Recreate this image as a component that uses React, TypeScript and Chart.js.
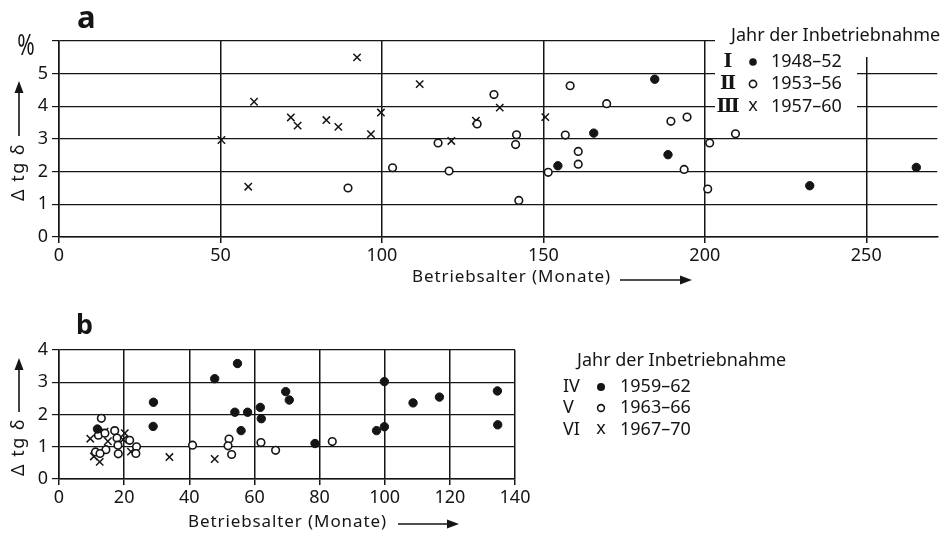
import React, { useEffect, useRef } from "react";
import { Chart, registerables } from "chart.js";

Chart.register(...registerables);

// ---------- data ----------
const ticksAgeA = [0, 50, 100, 150, 200, 250];
const ticksDtgA = [0, 1, 2, 3, 4, 5, 6];
const ticksAgeB = [0, 20, 40, 60, 80, 100, 120, 140];
const ticksDtgB = [0, 1, 2, 3, 4];

const panelA = "a";
const panelB = "b";
const unitLabel = "%";
const xTitle = "Betriebsalter (Monate)";
const yTitle = "Δ tg δ";
const legendTitle = "Jahr der Inbetriebnahme";
const groupsA = ["Ⅰ", "Ⅱ", "Ⅲ"];
const yearsA = ["1948–52", "1953–56", "1957–60"];
const groupsB = ["IV", "V", "VI"];
const yearsB = ["1959–62", "1963–66", "1967–70"];

// [Betriebsalter (Monate), Δ tg δ (%)]
const groupI: [number, number][] = [
  [184.5, 4.83], [165.6, 3.18], [154.5, 2.18], [188.6, 2.52], [232.5, 1.57], [265.5, 2.13],
];
const groupII: [number, number][] = [
  [89.5, 1.5], [103.3, 2.12], [117.4, 2.88], [120.8, 2.02], [129.5, 3.46], [134.7, 4.36],
  [141.7, 3.13], [141.4, 2.83], [142.4, 1.12], [151.5, 1.98], [156.8, 3.12], [158.3, 4.63],
  [160.8, 2.62], [160.8, 2.23], [169.6, 4.08], [189.5, 3.54], [194.5, 3.67], [193.6, 2.07],
  [201.5, 2.88], [200.9, 1.47], [209.5, 3.16],
];
const groupIII: [number, number][] = [
  [50.3, 2.97], [60.4, 4.14], [58.6, 1.54], [71.8, 3.66], [73.9, 3.41], [82.8, 3.58],
  [86.5, 3.37], [92.3, 5.5], [96.6, 3.15], [99.7, 3.81], [111.7, 4.68], [121.5, 2.94],
  [129.1, 3.56], [136.5, 3.96], [150.6, 3.67],
];
const groupIV: [number, number][] = [
  [11.8, 1.55], [29.0, 2.38], [28.9, 1.63], [47.8, 3.11], [54.8, 3.58], [54.0, 2.07],
  [57.9, 2.07], [55.9, 1.5], [61.8, 2.22], [62.1, 1.87], [69.6, 2.71], [70.7, 2.45],
  [78.6, 1.1], [97.5, 1.5], [99.9, 1.62], [99.9, 3.02], [108.7, 2.36], [116.8, 2.54],
  [134.6, 2.73], [134.7, 1.68],
];
const groupV: [number, number][] = [
  [13.0, 1.88], [12.1, 1.36], [14.1, 1.42], [17.1, 1.5], [17.8, 1.27], [18.1, 1.05],
  [18.2, 0.78], [21.7, 1.2], [14.4, 0.91], [11.2, 0.84], [12.6, 0.79], [23.8, 1.0],
  [23.6, 0.79], [41.0, 1.05], [52.2, 1.24], [51.9, 1.03], [53.0, 0.76], [62.0, 1.13],
  [66.5, 0.89], [83.9, 1.16],
];
const groupVI: [number, number][] = [
  [9.6, 1.25], [14.0, 1.47], [15.0, 1.17], [20.2, 1.42], [19.7, 1.22], [10.7, 0.7],
  [12.5, 0.53], [22.1, 0.85], [33.9, 0.68], [47.8, 0.62],
];

// ---------- styling helpers ----------
const INK = "#151515";
const FONT = '"Noto Sans", "DejaVu Sans", sans-serif';

type Kind = "filled" | "open" | "cross";

function dataset(label: string, pts: [number, number][], kind: Kind) {
  const base: any = {
    label,
    data: pts.map(([x, y]) => ({ x, y })),
    borderColor: INK,
  };
  if (kind === "filled") {
    return { ...base, pointStyle: "circle", backgroundColor: INK, pointRadius: 4.2, borderWidth: 1 };
  }
  if (kind === "open") {
    return { ...base, pointStyle: "circle", backgroundColor: "#fff", pointRadius: 3.8, borderWidth: 1.6 };
  }
  return { ...base, pointStyle: "crossRot", backgroundColor: INK, pointRadius: 5.2, borderWidth: 1.5 };
}

function drawArrow(ctx: CanvasRenderingContext2D, x1: number, y1: number, x2: number, y2: number) {
  const head = 12;
  const half = 4.5;
  const ang = Math.atan2(y2 - y1, x2 - x1);
  const bx = x2 - head * Math.cos(ang);
  const by = y2 - head * Math.sin(ang);
  ctx.save();
  ctx.strokeStyle = INK;
  ctx.fillStyle = INK;
  ctx.lineWidth = 1.6;
  ctx.beginPath();
  ctx.moveTo(x1, y1);
  ctx.lineTo(bx, by);
  ctx.stroke();
  ctx.beginPath();
  ctx.moveTo(x2, y2);
  ctx.lineTo(bx + half * Math.sin(ang), by - half * Math.cos(ang));
  ctx.lineTo(bx - half * Math.sin(ang), by + half * Math.cos(ang));
  ctx.closePath();
  ctx.fill();
  ctx.restore();
}

function drawMarker(ctx: CanvasRenderingContext2D, kind: Kind, x: number, y: number, r: number) {
  ctx.save();
  ctx.strokeStyle = INK;
  ctx.fillStyle = INK;
  if (kind === "filled") {
    ctx.beginPath();
    ctx.arc(x, y, r, 0, Math.PI * 2);
    ctx.fill();
  } else if (kind === "open") {
    ctx.lineWidth = 1.6;
    ctx.beginPath();
    ctx.arc(x, y, r, 0, Math.PI * 2);
    ctx.stroke();
  } else {
    ctx.font = `18px ${FONT}`;
    ctx.textAlign = "center";
    ctx.textBaseline = "middle";
    ctx.fillText("x", x, y - 1);
  }
  ctx.restore();
}

function text(ctx: CanvasRenderingContext2D, s: string, x: number, y: number, font: string, align: CanvasTextAlign = "left") {
  ctx.save();
  ctx.fillStyle = INK;
  ctx.font = font;
  ctx.textAlign = align;
  ctx.textBaseline = "middle";
  ctx.fillText(s, x, y);
  ctx.restore();
}

function yTitleAt(ctx: CanvasRenderingContext2D, x: number, y: number) {
  ctx.save();
  ctx.translate(x, y);
  ctx.rotate(-Math.PI / 2);
  ctx.fillStyle = INK;
  ctx.font = `18px ${FONT}`;
  (ctx as any).letterSpacing = "1.5px";
  ctx.textAlign = "center";
  ctx.textBaseline = "middle";
  ctx.fillText(yTitle, 0, 0);
  ctx.restore();
}

function xTitleAt(ctx: CanvasRenderingContext2D, x: number, y: number) {
  ctx.save();
  ctx.fillStyle = INK;
  ctx.font = `17px ${FONT}`;
  (ctx as any).letterSpacing = "0.9px";
  ctx.textAlign = "left";
  ctx.textBaseline = "middle";
  ctx.fillText(xTitle, x, y);
  ctx.restore();
}

const kinds: Kind[] = ["filled", "open", "cross"];

function decorA(chart: any) {
  const ctx: CanvasRenderingContext2D = chart.ctx;
  ctx.save();
  // white legend background hiding the grid
  ctx.fillStyle = "#fff";
  ctx.fillRect(715, 16, 229, 41);
  ctx.fillRect(715, 57, 142, 58);
  ctx.restore();

  text(ctx, panelA, 77, 19, `bold 31px ${FONT}`);
  ctx.save();
  ctx.translate(26, 47);
  ctx.scale(1, 1.35);
  text(ctx, unitLabel, 0, 0, `21px ${FONT}`, "center");
  ctx.restore();
  yTitleAt(ctx, 19, 172);
  drawArrow(ctx, 19, 136, 19, 81);
  xTitleAt(ctx, 412, 277);
  drawArrow(ctx, 620, 280, 692, 280);

  text(ctx, legendTitle, 731, 36, `18px ${FONT}`);
  const rows = [62, 84, 107];
  rows.forEach((ry, i) => {
    text(ctx, groupsA[i], 728, ry, `bold 19px "DejaVu Serif", serif`, "center");
    drawMarker(ctx, kinds[i], 753, ry, i === 0 ? 3.8 : 3.6);
    text(ctx, yearsA[i], 771, ry, `18px ${FONT}`);
  });
}

const TOP_B = 290;
function decorB(chart: any) {
  const ctx: CanvasRenderingContext2D = chart.ctx;
  ctx.save();
  ctx.translate(0, -TOP_B);
  text(ctx, panelB, 76, 326, `bold 27px ${FONT}`);
  yTitleAt(ctx, 19, 447);
  drawArrow(ctx, 19, 412, 19, 358);
  xTitleAt(ctx, 188, 522);
  drawArrow(ctx, 398, 524, 459, 524);

  text(ctx, legendTitle, 577, 361, `18px ${FONT}`);
  const rows = [387, 408, 430];
  rows.forEach((ry, i) => {
    text(ctx, groupsB[i], 563, ry, `18px ${FONT}`);
    drawMarker(ctx, kinds[i], 601, ry, i === 0 ? 4 : 3.4);
    text(ctx, yearsB[i], 620, ry, `18px ${FONT}`);
  });
  ctx.restore();
}

function makeConfig(
  datasets: any[],
  xTicks: number[],
  yTicks: number[],
  xMax: number,
  yMax: number,
  padding: any,
  hideTopLabel: boolean,
  decor: (c: any) => void
): any {
  const tickFont = { family: FONT, size: 18 };
  return {
    type: "scatter",
    data: { datasets },
    options: {
      responsive: false,
      animation: false,
      devicePixelRatio: 1,
      layout: { padding },
      plugins: { legend: { display: false }, tooltip: { enabled: false } },
      scales: {
        x: {
          type: "linear",
          min: 0,
          max: xMax,
          afterBuildTicks: (s: any) => {
            s.ticks = xTicks.map((v) => ({ value: v }));
          },
          afterFit: (s: any) => {
            s.height = 40;
          },
          grid: { color: INK, lineWidth: 1.5, tickLength: 6, tickColor: INK, drawTicks: true },
          border: { display: true, color: INK, width: 1.5 },
          ticks: { color: INK, font: tickFont, padding: 2, maxRotation: 0, autoSkip: false },
        },
        y: {
          type: "linear",
          min: 0,
          max: yMax,
          afterBuildTicks: (s: any) => {
            s.ticks = yTicks.map((v) => ({ value: v }));
          },
          afterFit: (s: any) => {
            s.width = 59;
          },
          grid: { color: INK, lineWidth: 1.2, tickLength: 7, tickColor: INK, drawTicks: true },
          border: { display: true, color: INK, width: 1.5 },
          ticks: {
            color: INK,
            font: tickFont,
            padding: 4,
            autoSkip: false,
            callback: (v: any) => (hideTopLabel && v === yMax ? "" : String(v)),
          },
        },
      },
    },
    plugins: [{ id: "decor", afterDraw: decor }],
  };
}

export default function App() {
  const refA = useRef<HTMLCanvasElement | null>(null);
  const refB = useRef<HTMLCanvasElement | null>(null);

  useEffect(() => {
    document.body.style.margin = "0";
    const a = new Chart(
      refA.current as HTMLCanvasElement,
      makeConfig(
        [
          dataset("Ⅰ 1948–52", groupI, "filled"),
          dataset("Ⅱ 1953–56", groupII, "open"),
          dataset("Ⅲ 1957–60", groupIII, "cross"),
        ],
        ticksAgeA,
        ticksDtgA,
        272,
        6,
        { left: 0, top: 41, right: 0, bottom: 23 },
        true,
        decorA
      )
    );
    const b = new Chart(
      refB.current as HTMLCanvasElement,
      makeConfig(
        [
          dataset("IV 1959–62", groupIV, "filled"),
          dataset("V 1963–66", groupV, "open"),
          dataset("VI 1967–70", groupVI, "cross"),
        ],
        ticksAgeB,
        ticksDtgB,
        140,
        4,
        { left: 0, top: 60, right: 429, bottom: 16 },
        false,
        decorB
      )
    );
    return () => {
      a.destroy();
      b.destroy();
    };
  }, []);

  return (
    <div style={{ position: "relative", width: 944, height: 535, background: "#fff", overflow: "hidden" }}>
      <canvas ref={refA} width={944} height={300} style={{ position: "absolute", left: 0, top: 0, width: 944, height: 300 }} />
      <canvas ref={refB} width={944} height={245} style={{ position: "absolute", left: 0, top: TOP_B, width: 944, height: 245 }} />
    </div>
  );
}
